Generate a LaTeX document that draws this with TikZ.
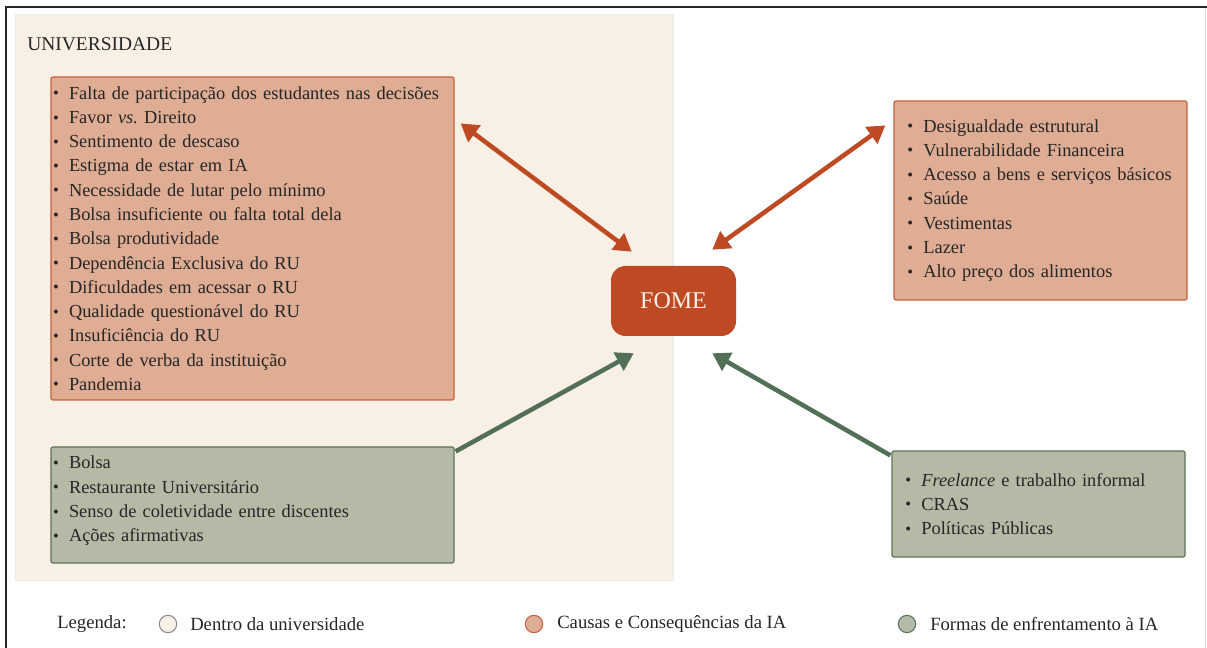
\documentclass[tikz,border=0pt]{standalone}
\usepackage{fontspec}
\setmainfont{Liberation Serif}
\usetikzlibrary{arrows.meta}
\usepackage{xcolor}

\definecolor{univbg}{HTML}{F8F0E4}
\definecolor{causafill}{HTML}{DEAD93}
\definecolor{causaline}{HTML}{C6603E}
\definecolor{fomefill}{HTML}{BE4A24}
\definecolor{enfrfill}{HTML}{B5BAA7}
\definecolor{enfrline}{HTML}{5E7259}
\definecolor{enfrarrow}{HTML}{537056}

\newcommand{\bul}{\makebox[12pt][l]{\raisebox{0.05ex}{\scalebox{0.9}{•}}}}

\tikzset{
  listbox/.style={draw, rectangle, rounded corners=1.5pt, line width=0.9pt, align=left,
    inner ysep=0pt, font=\fontsize{13.8}{18.2}\selectfont, text=black!85},
  causa/.style={listbox, fill=causafill, draw=causaline},
  enfr/.style={listbox, fill=enfrfill, draw=enfrline},
  redarr/.style={draw=fomefill, line width=3.4pt, {Triangle[length=13pt,width=15pt]}-{Triangle[length=13pt,width=15pt]}},
  greenarr/.style={draw=enfrarrow, line width=3.4pt, -{Triangle[length=13pt,width=15pt]}},
  legdot/.style={circle, minimum size=13pt, inner sep=0pt, line width=0.8pt},
  legtext/.style={anchor=west, inner sep=0pt, font=\fontsize{14}{16}\selectfont, text=black!85}
}

\begin{document}
\begin{tikzpicture}[x=0.75pt, y=-0.75pt]
  \useasboundingbox (0,0) rectangle (1207,648);
  \fill[white] (0,0) rectangle (1207,648);

  % moldura
  \draw[line width=1.5pt, black!85] (6,660) -- (6,7) -- (1215,7);
  \draw[line width=0.4pt, black!15] (1205,9) -- (1205,660);

  % universidade
  \filldraw[fill=univbg, draw=black!8, line width=0.5pt] (15,14) rectangle (673,580);
  \node[anchor=west, inner sep=0pt, font=\fontsize{14.6}{16}\selectfont, text=black!85] (univ) at (27,44) {UNIVERSIDADE};

  \node[causa, inner xsep=1.5pt, text width=299.25pt, minimum height=242.25pt] (causasU) at (252.5,238.5) {%
    \bul Falta de participação dos estudantes nas decisões\\
    \bul Favor \textit{vs.}\ Direito\\
    \bul Sentimento de descaso\\
    \bul Estigma de estar em IA\\
    \bul Necessidade de lutar pelo mínimo\\
    \bul Bolsa insuficiente ou falta total dela\\
    \bul Bolsa produtividade\\
    \bul Dependência Exclusiva do RU\\
    \bul Dificuldades em acessar o RU\\
    \bul Qualidade questionável do RU\\
    \bul Insuficiência do RU\\
    \bul Corte de verba da instituição\\
    \bul Pandemia};

  \node[enfr, inner xsep=1.5pt, text width=299.25pt, minimum height=87pt] (enfrU) at (252.5,505) {%
    \bul Bolsa\\
    \bul Restaurante Universitário\\
    \bul Senso de coletividade entre discentes\\
    \bul Ações afirmativas\\[-9.2pt]
    \mbox{}};

  \node[causa, inner xsep=10pt, text width=199.75pt, minimum height=149.25pt] (causasF) at (1040.5,200.5) {%
    \bul Desigualdade estrutural\\
    \bul Vulnerabilidade Financeira\\
    \bul Acesso a bens e serviços básicos\\
    \bul Saúde\\
    \bul Vestimentas\\
    \bul Lazer\\
    \bul Alto preço dos alimentos};

  \node[enfr, inner xsep=10pt, text width=199.75pt, minimum height=79.5pt] (enfrF) at (1038.5,504) {%
    \bul \textit{Freelance} e trabalho informal\\
    \bul CRAS\\
    \bul Políticas Públicas};

  \node[rectangle, rounded corners=11pt, fill=fomefill, text=univbg, minimum width=93.75pt,
    minimum height=52.5pt, font=\fontsize{18}{20}\selectfont] (fome) at (673.5,301) {FOME};

  \draw[redarr] ([shift={(6,47)}]causasU.north east) -- ([shift={(21,-14)}]fome.north west);
  \draw[redarr] ([shift={(-8,25)}]causasF.north west) -- ([shift={(-24,-16)}]fome.north east);
  \draw[greenarr] ([shift={(1,5)}]enfrU.north east) -- ([shift={(23,17)}]fome.south west);
  \draw[greenarr] ([shift={(-1,5)}]enfrF.north west) -- ([shift={(-24,17)}]fome.south east);

  % legenda
  \node[legtext] (leg) at (57,624) {Legenda:};
  \node[legdot, fill=univbg, draw=black!45] (dotU) at (168,624) {};
  \node[legtext] (legU) at (190,624) {Dentro da universidade};
  \node[legdot, fill=causafill, draw=causaline] (dotC) at (534,624) {};
  \node[legtext] (legC) at (557,624) {Causas e Consequências da IA};
  \node[legdot, fill=enfrfill, draw=enfrline] (dotE) at (907,624) {};
  \node[legtext] (legE) at (930,624) {Formas de enfrentamento à IA};
\end{tikzpicture}
\end{document}
